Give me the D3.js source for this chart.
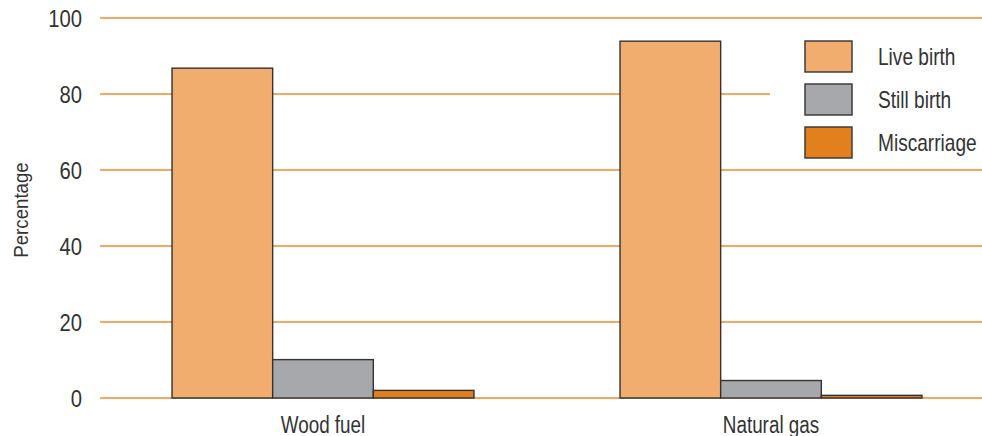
<!DOCTYPE html>
<html>
<head>
<meta charset="utf-8">
<script src="https://cdn.jsdelivr.net/npm/d3@7/dist/d3.min.js"></script>
<style>
  html, body { margin: 0; padding: 0; background: #fff; }
  svg { display: block; }
  text { font-family: "Liberation Sans", Arial, Helvetica, sans-serif; fill: #333; }
</style>
</head>
<body>
<svg id="chart" width="982" height="436"></svg>
<script>
// Fuel type groups and birth outcome series (percent)
const categories = ["Wood fuel", "Natural gas"];
const seriesNames = ["Live birth", "Still birth", "Miscarriage"];
const liveBirth = [86.8, 93.9];
const stillBirth = [10.1, 4.6];
const miscarriage = [2.0, 0.7];
const yTicks = [0, 20, 40, 60, 80, 100];
const colors = ["#F0AD6E", "#A7A8AB", "#E3801E"];

const seriesValues = [liveBirth, stillBirth, miscarriage];
const rows = categories.map((c, i) => ({
  category: c,
  values: seriesNames.map((s, j) => ({ series: s, value: seriesValues[j][i] }))
}));

const svg = d3.select("#chart");
const W = 982;

const y = d3.scaleLinear().domain([0, 100]).range([398, 18]);
const x0 = d3.scaleBand().domain(categories).range([99, 995]).paddingInner(0.326).paddingOuter(0.163);
const x1 = d3.scaleBand().domain(seriesNames).range([0, x0.bandwidth()]);
const color = d3.scaleOrdinal().domain(seriesNames).range(colors);

// Horizontal gridlines
svg.append("g")
  .selectAll("line")
  .data(yTicks)
  .join("line")
  .attr("x1", 100).attr("x2", W)
  .attr("y1", d => y(d)).attr("y2", d => y(d))
  .attr("stroke", "#EE8A2E").attr("stroke-width", 1.3);

// Y axis tick labels (condensed lettering)
const yAxis = d3.axisLeft(y).tickValues(yTicks).tickSize(0).tickPadding(0);
svg.append("g")
  .attr("transform", "translate(82,0)")
  .call(yAxis)
  .call(g => g.select(".domain").remove())
  .call(g => g.selectAll("text")
    .attr("font-size", 23)
    .attr("fill", "#333")
    .attr("dy", "0.36em")
    .attr("transform", "scale(0.88,1)")
    .style("font-family", null));

// Y axis title
svg.append("text")
  .attr("transform", "translate(28,210) rotate(-90) scale(0.89,1)")
  .attr("text-anchor", "middle")
  .attr("font-size", 21)
  .text("Percentage");

// Legend background hides gridlines behind it
svg.append("rect")
  .attr("x", 770).attr("y", 30).attr("width", W - 770).attr("height", 139)
  .attr("fill", "#fff");

// Bars
const groups = svg.append("g")
  .selectAll("g")
  .data(rows)
  .join("g")
  .attr("transform", d => `translate(${x0(d.category)},0)`);

groups.selectAll("rect")
  .data(d => d.values)
  .join("rect")
  .attr("x", d => x1(d.series))
  .attr("width", x1.bandwidth())
  .attr("y", d => y(d.value))
  .attr("height", d => y(0) - y(d.value))
  .attr("fill", d => color(d.series))
  .attr("stroke", "#333")
  .attr("stroke-width", 1.4);

// Category labels
const xAxis = d3.axisBottom(x0).tickSize(0).tickPadding(0);
svg.append("g")
  .attr("transform", "translate(0,433)")
  .call(xAxis)
  .call(g => g.select(".domain").remove())
  .call(g => g.selectAll("text")
    .attr("font-size", 23)
    .attr("fill", "#333")
    .attr("dy", "0")
    .attr("transform", "scale(0.82,1)")
    .style("font-family", null));

// Legend
const legend = svg.append("g").attr("transform", "translate(805,41)");
const items = legend.selectAll("g")
  .data(seriesNames)
  .join("g")
  .attr("transform", (d, i) => `translate(0,${i * 43})`);
items.append("rect")
  .attr("width", 47).attr("height", 31)
  .attr("fill", d => color(d))
  .attr("stroke", "#333").attr("stroke-width", 1.4);
items.append("text")
  .attr("transform", "translate(73,24) scale(0.83,1)")
  .attr("font-size", 23)
  .text(d => d);
</script>
</body>
</html>
